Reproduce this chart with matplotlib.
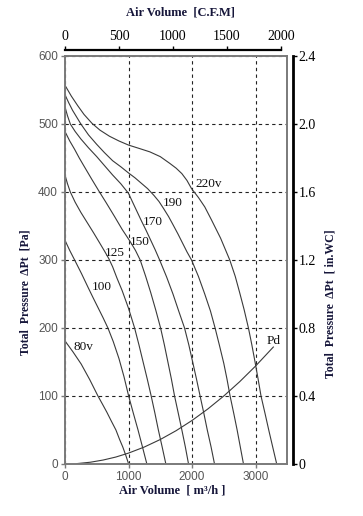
import matplotlib
matplotlib.use("Agg")
import matplotlib.pyplot as plt

# fan curves: air volume [m3/h] vs total pressure [Pa]
x_220 = [0, 100, 200, 300, 425, 550, 700, 850, 1000, 1170, 1336, 1500, 1651, 1750, 1840, 1920, 1992,
         2100, 2201, 2306, 2450, 2594, 2680, 2750, 2820, 2888, 2940, 2990, 3040, 3086, 3150, 3210, 3270, 3333]
p_220 = [557, 541, 527, 514, 501, 491, 482, 475, 469, 464, 459, 452, 442, 435, 427, 417, 405,
         392, 378, 359, 332, 300, 276, 252, 227, 200, 176, 151, 125, 100, 74, 49, 25, 0]

x_190 = [0, 60, 120, 250, 370, 500, 620, 750, 880, 1000, 1100, 1200, 1300, 1400, 1480, 1550, 1630,
         1700, 1780, 1850, 1920, 1992, 2100, 2200, 2290, 2363, 2430, 2500, 2550, 2599, 2660, 2710, 2760, 2810]
p_190 = [543, 531, 520, 500, 484, 470, 458, 446, 437, 428, 421, 413, 405, 395, 386, 376, 364,
         352, 338, 325, 312, 300, 276, 250, 225, 200, 175, 148, 125, 100, 73, 50, 25, 0]

x_170 = [0, 40, 84, 160, 250, 370, 500, 620, 750, 880, 1000, 1100, 1206, 1280, 1350, 1420, 1490,
         1600, 1700, 1790, 1882, 1950, 2010, 2070, 2127, 2185, 2240, 2300, 2354]
p_170 = [525, 512, 500, 489, 478, 465, 452, 439, 425, 412, 398, 378, 357, 343, 329, 315, 300,
         275, 250, 225, 200, 175, 150, 125, 100, 75, 50, 25, 0]

x_150 = [0, 75, 150, 225, 300, 420, 530, 650, 780, 900, 1027, 1110, 1184, 1270, 1350, 1430, 1505,
         1565, 1620, 1675, 1725, 1785, 1840, 1895, 1945]
p_150 = [489, 475, 463, 450, 438, 419, 402, 384, 364, 345, 327, 314, 300, 276, 252, 226, 200,
         175, 150, 125, 100, 74, 50, 25, 0]

x_125 = [0, 40, 84, 160, 250, 350, 450, 540, 629, 690, 750, 820, 900, 1000, 1096, 1165, 1230,
         1295, 1357, 1415, 1470, 1530, 1588]
p_125 = [425, 412, 400, 385, 370, 355, 340, 326, 312, 302, 290, 273, 255, 229, 200, 175, 150,
         125, 100, 75, 50, 25, 0]

x_100 = [0, 75, 152, 260, 362, 440, 520, 600, 676, 760, 850, 930, 1002, 1075, 1150, 1220, 1289]
p_100 = [329, 314, 300, 280, 260, 245, 230, 215, 200, 180, 155, 128, 100, 75, 50, 25, 0]

x_80 = [0, 125, 255, 390, 519, 590, 660, 730, 802, 860, 910, 960, 1002]
p_80 = [181, 165, 147, 124, 100, 88, 76, 63, 50, 36, 25, 12, 0]

# dynamic pressure
x_pd = [190, 400, 600, 800, 1000, 1250, 1500, 1750, 2000, 2250, 2500, 2750, 3000, 3280]
p_pd = [0.6, 2.6, 5.8, 10.2, 16, 25, 36, 49, 64, 81, 100, 121, 144, 172]

curves = [(x_220, p_220), (x_190, p_190), (x_170, p_170), (x_150, p_150),
          (x_125, p_125), (x_100, p_100), (x_80, p_80), (x_pd, p_pd)]

# curve labels and where they sit
labels = ["220v", "190", "170", "150", "125", "100", "80v", "Pd"]
label_x = [2060, 1540, 1226, 1022, 629, 425, 142, 3176]
label_y = [412, 384, 356, 326, 310, 260, 172, 181]

CFM = 1.699      # m3/h per CFM
PA_INWC = 250.0  # Pa per in.WC

serif = ["Liberation Serif", "DejaVu Serif"]
sans = ["Liberation Sans", "DejaVu Sans"]
title_col = "#16163a"

fig = plt.figure(figsize=(3.63, 5.16), dpi=100)
ax = fig.add_axes([0.179, 0.1008, 0.6125, 0.7907])

for xs, ps in curves:
    ax.plot(xs, ps, color="#3a3a3a", lw=0.8)

for t, lx, ly in zip(labels, label_x, label_y):
    ax.text(lx, ly, t, family=serif, fontsize=9.5, color="#111111", va="center", ha="left")

ax.set_xlim(0, 3500)
ax.set_ylim(0, 600)
ax.set_xticks([0, 1000, 2000, 3000])
ax.set_yticks(range(0, 601, 100))
ax.grid(True, color="#222222", ls=(0, (3, 3)), lw=0.8)
for s in ax.spines.values():
    s.set_color("#7a7a7a")
    s.set_linewidth(1.4)
ax.tick_params(colors="#7a7a7a", labelcolor="#555555", labelsize=8.5, length=3, width=1, pad=2)
for lab in ax.get_xticklabels() + ax.get_yticklabels():
    lab.set_family(sans)

# CFM axis on top
ax_top = ax.twiny()
ax_top.set_xlim(0, 3500 / CFM)
ax_top.set_xticks([0, 500, 1000, 1500, 2000])
for k in ["left", "right", "bottom"]:
    ax_top.spines[k].set_visible(False)
ax_top.spines["top"].set_position(("outward", 4))
ax_top.spines["top"].set_bounds(0, 2000)
ax_top.spines["top"].set_color("black")
ax_top.spines["top"].set_linewidth(1.6)
ax_top.tick_params(axis="x", colors="black", labelsize=10, length=3, width=1, pad=2)
for lab in ax_top.get_xticklabels():
    lab.set_family(serif)

# in.WC axis on the right
ax_r = ax.twinx()
ax_r.set_ylim(0, 600 / PA_INWC)
ax_r.set_yticks([0, 0.4, 0.8, 1.2, 1.6, 2.0, 2.4])
ax_r.set_yticklabels(["0", "0.4", "0.8", "1.2", "1.6", "2.0", "2.4"])
for k in ["left", "top", "bottom"]:
    ax_r.spines[k].set_visible(False)
ax_r.spines["right"].set_position(("outward", 4))
ax_r.spines["right"].set_color("black")
ax_r.spines["right"].set_linewidth(2)
ax_r.tick_params(axis="y", colors="black", labelsize=10, length=3, width=1, pad=1)
for lab in ax_r.get_yticklabels():
    lab.set_family(serif)

fig.text(0.497, 0.975, "Air Volume  [C.F.M]", family=serif, weight="bold",
         fontsize=9, color=title_col, ha="center", va="center")
fig.text(0.474, 0.050, "Air Volume  [ m\u00b3/h ]", family=serif, weight="bold",
         fontsize=9, color=title_col, ha="center", va="center")
fig.text(0.069, 0.434, "Total  Pressure  \u0394Pt  [Pa]", family=serif, weight="bold",
         fontsize=8.5, color=title_col, ha="center", va="center", rotation=90)
fig.text(0.911, 0.411, "Total  Pressure  \u0394Pt  [ in.WC]", family=serif, weight="bold",
         fontsize=8.5, color=title_col, ha="center", va="center", rotation=90)

fig.savefig("out.png", dpi=100)
